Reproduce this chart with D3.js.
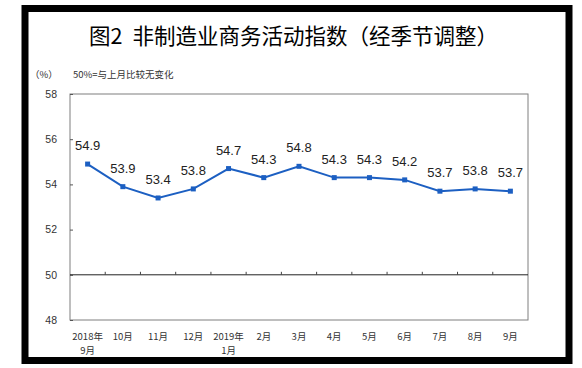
<!DOCTYPE html>
<html><head><meta charset="utf-8">
<script src="https://cdn.jsdelivr.net/npm/d3@7"></script>
<style>
html,body{margin:0;padding:0;background:#fff;}
svg{display:block;}
</style></head>
<body>
<svg id="chart" width="582" height="368"></svg>
<script>
const categories = ["2018年\n9月","10月","11月","12月","2019年\n1月","2月","3月","4月","5月","6月","7月","8月","9月"];
const values = [54.9,53.9,53.4,53.8,54.7,54.3,54.8,54.3,54.3,54.2,53.7,53.8,53.7];
const yTicks = [48,50,52,54,56,58];
const titleHead = "图2";
const titleBody = "非制造业商务活动指数（经季节调整）";
const unitLabel = "（%）";
const noteLabel = "50%=与上月比较无变化";

const svg = d3.select("#chart");
const cjk = "'Noto Sans CJK SC','Noto Sans',sans-serif";

// outer frame
svg.append("rect").attr("x",25).attr("y",8.5).attr("width",544).attr("height",352)
  .attr("fill","none").attr("stroke","#000").attr("stroke-width",7);

const tt = svg.append("text").attr("x",89).attr("y",44)
  .attr("font-family",cjk).attr("font-size",21.5).attr("fill","#000");
tt.append("tspan").text(titleHead);
tt.append("tspan").attr("dx",10).text(titleBody);

svg.append("text").attr("x",30).attr("y",78).attr("font-family",cjk).attr("font-size",9.5)
  .attr("fill","#333").text(unitLabel);
svg.append("text").attr("x",73).attr("y",78).attr("font-family",cjk).attr("font-size",9.5)
  .attr("fill","#333").text(noteLabel);

const pLeft=70, pRight=528, pTop=94, pBottom=320;
const x = d3.scaleBand().domain(categories).range([pLeft,pRight]).padding(0);
const y = d3.scaleLinear().domain([48,58]).range([pBottom,pTop]);

// plot frame
svg.append("rect").attr("x",pLeft).attr("y",pTop).attr("width",pRight-pLeft).attr("height",pBottom-pTop)
  .attr("fill","none").attr("stroke","#7f7f7f").attr("stroke-width",1);

// y axis
const yAxis = d3.axisLeft(y).tickValues(yTicks).tickSize(-3).tickPadding(13).tickFormat(d3.format("d"));
const gy = svg.append("g").attr("transform",`translate(${pLeft},0)`).call(yAxis);
gy.select(".domain").remove();
gy.selectAll(".tick line").attr("stroke","#555");
gy.selectAll("text").attr("font-family","'Liberation Sans',Arial,sans-serif").attr("font-size",10.5).attr("fill","#333");

// x axis on 50 line
const y50 = y(50);
svg.append("line").attr("x1",pLeft).attr("x2",pRight).attr("y1",y50).attr("y2",y50)
  .attr("stroke","#222").attr("stroke-width",1);
svg.append("g").selectAll("line").data(categories.slice(1)).join("line")
  .attr("x1",d=>x(d)).attr("x2",d=>x(d)).attr("y1",y50).attr("y2",y50-3)
  .attr("stroke","#444");

// x labels (each line its own text)
const xg = svg.append("g");
categories.forEach(d=>{
  d.split("\n").forEach((p,i)=>{
    xg.append("text").attr("x",x(d)+x.bandwidth()/2).attr("y",340+i*13.8)
      .attr("text-anchor","middle").attr("font-family",cjk).attr("font-size",9.5)
      .attr("fill","#333").text(p);
  });
});

// line
const line = d3.line().x((d,i)=>x(categories[i])+x.bandwidth()/2).y(d=>y(d));
svg.append("path").datum(values).attr("d",line).attr("fill","none")
  .attr("stroke","#1c5fc2").attr("stroke-width",2);
svg.append("g").selectAll("rect").data(values).join("rect")
  .attr("x",(d,i)=>x(categories[i])+x.bandwidth()/2-2.5).attr("y",d=>y(d)-2.5)
  .attr("width",5).attr("height",5).attr("fill","#1c5fc2");

svg.append("g").selectAll("text").data(values).join("text")
  .attr("x",(d,i)=>x(categories[i])+x.bandwidth()/2).attr("y",d=>y(d)-14)
  .attr("text-anchor","middle").attr("font-family","'Liberation Sans',Arial,sans-serif")
  .attr("font-size",13).attr("fill","#222").text(d=>d.toFixed(1));
</script>
</body></html>
